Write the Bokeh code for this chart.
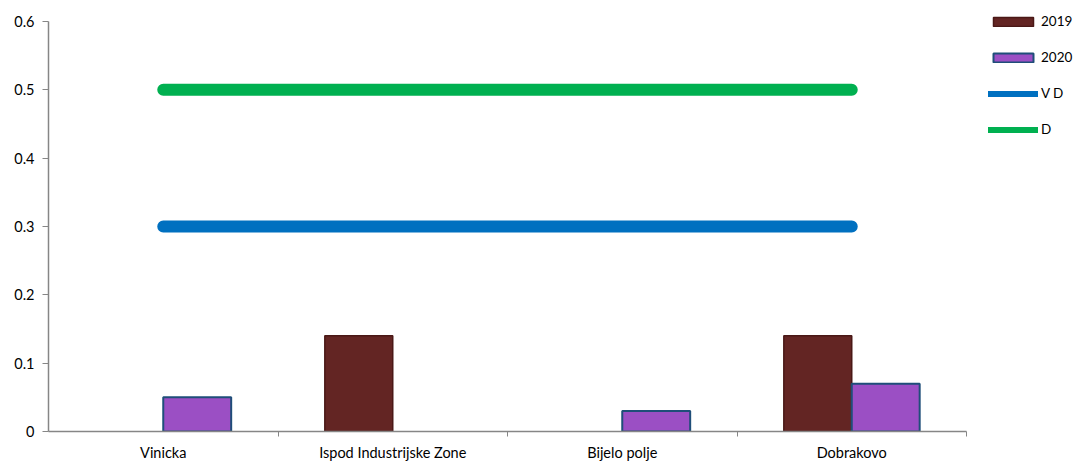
import numpy as np
from bokeh.plotting import figure
from bokeh.models import Range1d, FixedTicker, Legend, LegendItem, ColumnDataSource
from bokeh.embed import file_html
from bokeh.resources import INLINE

categories = ["Vinicka", "Ispod Industrijske Zone", "Bijelo polje", "Dobrakovo"]
vals_2019 = [np.nan, 0.14, np.nan, 0.14]
vals_2020 = [0.05, np.nan, 0.03, 0.07]
limit_vd = 0.3
limit_d = 0.5
y_ticks = [0, 0.1, 0.2, 0.3, 0.4, 0.5, 0.6]
y_max = 0.6

FONT = "Lato"
n = len(categories)
centers = np.arange(n) + 0.5
bar_w = 0.296

# layout (pixels): frame spans the whole width/top so the legend is not clipped;
# axes are bounded to the data area
W, H = 1085, 463
left, bottom_pad = 48, 32
data_right, data_top = 966, 21
x_end = n * (W - left) / (data_right - left)
y_end = y_max * (H - bottom_pad) / (H - bottom_pad - data_top)

p = figure(width=W, height=H, output_backend="svg", toolbar_location=None,
           x_range=Range1d(0, x_end), y_range=Range1d(0, y_end),
           min_border_left=left, min_border_right=0, min_border_top=0, min_border_bottom=bottom_pad)
p.outline_line_color = None
p.xgrid.visible = False
p.ygrid.visible = False
p.background_fill_color = "white"

src19 = ColumnDataSource(dict(x=centers - bar_w / 2, top=np.array(vals_2019, dtype=float)))
src20 = ColumnDataSource(dict(x=centers + bar_w / 2, top=np.array(vals_2020, dtype=float)))
r19 = p.vbar(x="x", top="top", bottom=0, width=bar_w, source=src19,
             fill_color="#632523", line_color="#4a1816", line_width=1.5)
r20 = p.vbar(x="x", top="top", bottom=0, width=bar_w, source=src20,
             fill_color="#9b4fc4", line_color="#1f4e79", line_width=2)

p.line(x=list(centers), y=[limit_vd] * n, line_width=12, line_color="#0070C0", line_cap="round")
p.line(x=list(centers), y=[limit_d] * n, line_width=12, line_color="#00B050", line_cap="round")

# legend-only renderers (not visible in plot: NaN data)
lvd = p.line(x=[np.nan], y=[np.nan], line_width=6, line_color="#0070C0", line_cap="round")
ld = p.line(x=[np.nan], y=[np.nan], line_width=6, line_color="#00B050", line_cap="round")

legend = Legend(items=[LegendItem(label="2019", renderers=[r19]),
                       LegendItem(label="2020", renderers=[r20]),
                       LegendItem(label="V D", renderers=[lvd]),
                       LegendItem(label="D", renderers=[ld])],
                location=(940, 294), glyph_width=50, glyph_height=11, label_height=16,
                spacing=20, padding=0, margin=0, label_standoff=3,
                border_line_color=None, background_fill_alpha=0,
                label_text_font=FONT, label_text_font_size="13.5px", label_text_color="#000000")
p.add_layout(legend, "center")

# axes
ax = p.xaxis[0]
ax.bounds = (0, n)
ax.ticker = FixedTicker(ticks=list(centers), minor_ticks=list(np.arange(1, n + 1)))
ax.major_label_overrides = {float(c): cat for c, cat in zip(centers, categories)}
ax.major_tick_out = 0
ax.major_tick_in = 0
ax.minor_tick_out = 5
ax.minor_tick_in = 0
ax.minor_tick_line_color = "#868686"
ax.axis_line_color = "#868686"
ax.axis_line_width = 1.5
ax.major_label_standoff = 7
ax.major_label_text_font = FONT
ax.major_label_text_font_size = "14.5px"
ax.major_label_text_color = "#000000"

ay = p.yaxis[0]
ay.bounds = (0, y_max)
ay.ticker = FixedTicker(ticks=y_ticks)
ay.major_label_overrides = {0: "0"}
ay.major_tick_out = 6
ay.major_tick_in = 0
ay.minor_tick_out = 0
ay.minor_tick_in = 0
ay.major_tick_line_color = "#868686"
ay.axis_line_color = "#868686"
ay.axis_line_width = 1.5
ay.major_label_standoff = 8
ay.major_label_text_font = FONT
ay.major_label_text_font_size = "14.5px"
ay.major_label_text_color = "#000000"

open("out.html", "w").write(file_html(p, INLINE))
